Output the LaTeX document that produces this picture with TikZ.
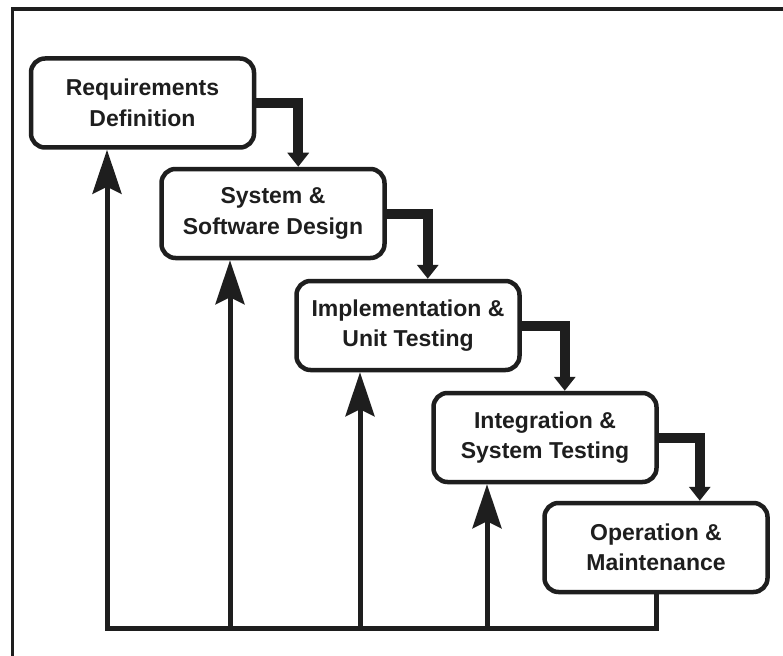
\documentclass[tikz,border=0pt]{standalone}
\usepackage{fontspec}
\setmainfont{Liberation Sans}
\usetikzlibrary{arrows.meta,calc}
\definecolor{ink}{HTML}{1E1E1E}
\tikzset{
  phase/.style={draw=ink, line width=4.5pt, fill=white, rounded corners=14pt,
    minimum width=223pt, minimum height=89pt, align=center, text=ink,
    font=\fontsize{23}{30.5}\selectfont\bfseries},
  flowbar/.style={draw=ink, line width=10pt, line join=miter,
    -{Triangle[length=14pt,width=21pt]}},
  feedback/.style={draw=ink, line width=5pt, line join=miter,
    -{Stealth[length=44pt,width=29pt,inset=7pt]}},
}
\begin{document}
\begin{tikzpicture}[x=1pt,y=-1pt]
\useasboundingbox (0,0) rectangle (783,655);
\fill[white] (0,0) rectangle (783,655);
% outer frame (left and top edges only)
\draw[ink, line width=3.5pt] (12.5,660) -- (12.5,9) -- (790,9);

% the five phases
\node[phase] (b1) at (142.5,103)   {Requirements\\Definition};
\node[phase] (b2) at (273,213.5)   {System \&\\Software Design};
\node[phase] (b3) at (408,325.5)   {Implementation \&\\Unit Testing};
\node[phase] (b4) at (545,437.5)   {Integration \&\\System Testing};
\node[phase] (b5) at (656,547.5)   {Operation \&\\Maintenance};

% forward flow between phases
\draw[flowbar] (b1.east) -- ++(42,0) coordinate (k1) -- (k1 |- b2.north);
\draw[flowbar] (b2.east) -- ++(41,0) coordinate (k2) -- (k2 |- b3.north);
\draw[flowbar] (b3.east) -- ++(43,0) coordinate (k3) -- (k3 |- b4.north);
\draw[flowbar] (b4.east) -- ++(41,0) coordinate (k4) -- (k4 |- b5.north);

% feedback paths
\coordinate (r1) at (107,628);
\coordinate (r2) at (230,628);
\coordinate (r3) at (360,628);
\coordinate (r4) at (487,628);
\draw[feedback] (b5.south) |- (r1) -- (r1 |- b1.south);
\draw[feedback] (r2) -- (r2 |- b2.south);
\draw[feedback] (r3) -- (r3 |- b3.south);
\draw[feedback] (r4) -- (r4 |- b4.south);
\end{tikzpicture}
\end{document}
